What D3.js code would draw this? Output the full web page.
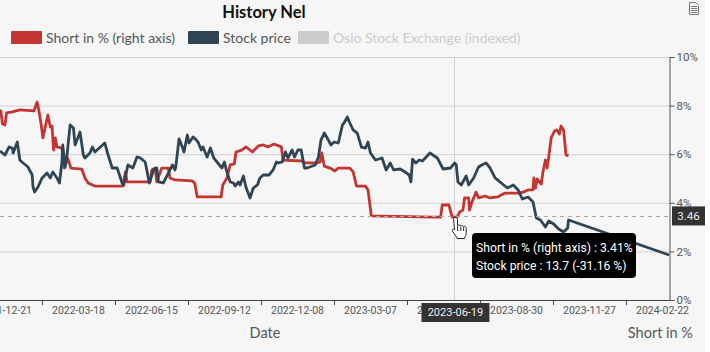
<!DOCTYPE html>
<html>
<head>
<meta charset="utf-8">
<script src="https://cdn.jsdelivr.net/npm/d3@7"></script>
<style>
  html, body { margin: 0; padding: 0; background: #fff; }
  svg { display: block; font-family: "Lato", sans-serif; }
</style>
</head>
<body>
<div id="container"></div>
<script>
var width = 710,
    height = 352,
    panelWidth = 705,
    plot = { left: 0, right: 670, top: 57, bottom: 300 };

// category labels under the axis, one per band
var tickLabels = ['2021-12-21', '2022-03-18', '2022-06-15', '2022-09-12', '2022-12-08',
    '2023-03-07', '2023-06-07', '2023-08-30', '2023-11-27', '2024-02-22'];
var percentTicks = [0, 2, 4, 6, 8, 10];

// days counted from firstDate
var firstDate = new Date(2021, 11, 14);
var lastDate = new Date(2024, 2, 5);

var shortDays = [0, 1, 3, 6, 8, 15, 24, 41, 45, 47, 50, 52, 58, 61, 63, 65, 67, 69, 75, 78, 82, 86, 99, 103, 107,
    115, 146, 149, 152, 154, 182, 184, 188, 190, 196, 204, 206, 212, 233, 236, 239, 268, 270, 275, 279, 284, 286,
    293, 298, 306, 313, 319, 325, 332, 341, 343, 366, 370, 384, 388, 390, 393, 400, 406, 410, 424, 428, 432, 443,
    446, 450, 525, 534, 536, 544, 548, 554, 557, 561, 563, 568, 569, 572, 577, 580, 588, 594, 603, 612, 628, 634,
    640, 646, 647, 649, 651, 656, 658, 661, 663, 665, 668, 672, 675, 678, 680, 683, 686, 689];
var shortValues = [7.82, 7.78, 7.24, 7.20, 7.70, 7.74, 7.82, 7.78, 8.15, 7.82, 7.20, 6.67, 7.61, 7.12, 7.16, 6.17,
    6.67, 6.30, 6.25, 5.43, 5.84, 5.43, 5.39, 5.02, 4.81,
    4.69, 4.69, 4.69, 5.27, 4.86, 4.86, 5.35, 5.43, 4.86, 5.43, 5.43, 5.02, 4.94, 4.90, 4.81, 4.24, 4.24, 4.73,
    5.02, 5.56, 5.60, 6.09,
    6.17, 6.30, 6.09, 6.34, 6.38, 6.30, 6.42, 6.30, 5.76, 5.72, 5.64, 5.64, 5.68, 6.05, 5.51, 5.43, 5.31, 5.43,
    5.43, 5.27, 4.69, 4.69,
    4.53, 3.46, 3.41, 3.41, 3.91, 3.91, 3.41, 3.41, 3.62, 3.70, 4.20, 4.20, 3.70, 4.03, 4.44, 4.20, 4.28, 4.20,
    4.24, 4.40, 4.40, 4.44,
    4.53, 4.53, 5.02, 4.61, 4.98, 4.77, 5.27, 5.76, 5.43, 5.88, 6.67, 6.95, 7.00, 6.83, 7.16, 7.00, 5.97, 5.93];

var priceDays = [0, 6, 11, 15, 16, 21, 24, 28, 34, 39, 40, 42, 46, 51, 57, 61, 64, 69, 72, 75, 76, 79, 81, 85, 89,
    91, 97, 101, 103, 109, 112, 115, 127, 131, 136, 142, 148, 150, 155, 161, 166, 170, 176, 181, 186, 190, 192,
    198, 204, 209, 212, 213, 217, 221, 223, 227, 229, 234, 238, 240, 244, 246, 251, 255, 259, 263, 269, 272, 275,
    279, 283, 285, 289, 291, 295, 298, 303, 307, 312, 315, 319, 326, 331, 335, 337, 342, 346, 349, 354, 357, 361,
    365, 369, 372, 382, 386, 389, 393, 398, 401, 405, 410, 415, 417, 421, 424, 428, 433, 438, 443, 446, 449, 455,
    463, 468, 473, 477, 485, 491, 496, 498, 500, 504, 508, 512, 521, 530, 537, 546, 551, 553, 555, 559, 565, 568,
    574, 580, 584, 589, 594, 600, 609, 615, 622, 628, 633, 640, 646, 650, 655, 661, 665, 671, 677, 683, 688, 689, 811];
var priceValues = [15.13, 14.72, 15.53, 15.43, 14.92, 16.04, 14.21, 13.91, 13.50, 12.69, 11.47, 10.96, 11.47, 12.39,
    12.89, 12.39, 12.99, 12.39, 11.88, 13.91, 15.74, 13.50, 14.52, 17.77, 17.46,
    15.74, 17.06, 14.72, 14.42, 14.92, 15.53, 15.03, 15.94, 14.72, 13.40, 13.40, 11.88, 11.68, 13.71, 13.40, 14.52,
    14.42, 14.01, 11.88, 13.20, 13.40, 11.98,
    11.88, 12.89, 13.71, 13.20, 13.50, 16.35, 15.53, 15.03, 16.75, 15.94, 16.55, 16.24, 16.04, 15.23, 15.53, 14.52,
    15.43, 14.42, 14.01, 13.40, 14.01, 12.99,
    11.98, 11.88, 11.57, 11.98, 11.68, 12.59, 11.47, 10.35, 11.37, 11.68, 12.39, 12.69, 12.69, 13.20, 14.01, 13.91,
    14.01, 15.03, 14.42, 15.23, 14.52, 15.23,
    15.23, 13.40, 13.40, 13.71, 14.52, 16.24, 16.95, 16.24, 15.74, 16.04, 15.94, 17.77, 17.97, 18.58, 17.97, 17.26,
    16.95, 15.53, 15.43, 16.04, 14.92, 14.21,
    14.42, 13.20, 13.91, 13.20, 13.30, 12.99, 12.69, 11.98, 14.31, 13.91, 14.21, 14.11, 14.92, 14.42, 13.30, 13.40,
    13.91, 13.71, 11.98, 11.68, 12.59, 11.68,
    12.39, 13.50, 13.71, 13.91, 13.40, 12.39, 11.78, 11.37, 11.68, 11.17, 10.25, 10.46, 9.95, 8.33, 8.12, 7.41, 8.02,
    7.72, 7.21, 6.90, 7.31, 8.12, 4.57];

var hoverDate = new Date(2023, 5, 19);
var hoverLabel = '2023-06-19';
var hoverPercent = 3.46;
var tooltipLines = ['Short in % (right axis) : 3.41%', 'Stock price : 13.7 (-31.16 %)'];
var legendItems = [
    { name: 'Short in % (right axis)', color: '#c23531', text: '#555', x: 11 },
    { name: 'Stock price', color: '#2f4554', text: '#555', x: 188 },
    { name: 'Oslo Stock Exchange (indexed)', color: '#ccc', text: '#ccc', x: 298 }
];

var svg = d3.select('#container')
    .append('svg')
    .attr('width', width)
    .attr('height', height);

svg.append('rect')
    .attr('width', panelWidth)
    .attr('height', height)
    .attr('fill', '#f6f6f6');

//scales
var x = d3.scaleTime()
    .domain([firstDate, lastDate])
    .range([plot.left, plot.right]);
var band = d3.scaleBand()
    .domain(tickLabels)
    .range([-31, 699]);
var yShort = d3.scaleLinear()
    .domain([0, 10])
    .range([plot.bottom, plot.top]);
// hidden axis, the price has no ticks of its own
var yPrice = d3.scaleLinear()
    .domain([0, 24.67])
    .range([plot.bottom, plot.top]);

function dayToDate(d) {
    return d3.timeDay.offset(firstDate, d);
}

//grid
svg.append('g')
    .selectAll('line')
    .data(percentTicks.slice(1))
    .join('line')
    .attr('x1', plot.left)
    .attr('x2', plot.right)
    .attr('y1', function(d) { return yShort(d) + 0.5; })
    .attr('y2', function(d) { return yShort(d) + 0.5; })
    .attr('stroke', '#d2d2d2');

svg.append('line')
    .attr('x1', Math.round(x(hoverDate)) - 0.5)
    .attr('x2', Math.round(x(hoverDate)) - 0.5)
    .attr('y1', plot.top)
    .attr('y2', plot.bottom)
    .attr('stroke', '#d2d2d2');

//lines
svg.append('clipPath').attr('id', 'plot-clip')
    .append('rect')
    .attr('x', plot.left)
    .attr('y', plot.top)
    .attr('width', plot.right - plot.left)
    .attr('height', plot.bottom - plot.top);

var lineShort = d3.line()
    .x(function(d) { return x(dayToDate(d)); })
    .y(function(d, i) { return yShort(shortValues[i]); });
var linePrice = d3.line()
    .x(function(d) { return x(dayToDate(d)); })
    .y(function(d, i) { return yPrice(priceValues[i]); });

svg.append('path')
    .attr('d', lineShort(shortDays))
    .attr('clip-path', 'url(#plot-clip)')
    .attr('fill', 'none')
    .attr('stroke', '#c23531')
    .attr('stroke-width', 2.8)
    .attr('stroke-linejoin', 'round');
svg.append('path')
    .attr('d', linePrice(priceDays))
    .attr('clip-path', 'url(#plot-clip)')
    .attr('fill', 'none')
    .attr('stroke', '#2f4554')
    .attr('stroke-width', 2.8)
    .attr('stroke-linejoin', 'round');

//dashed pointer at the hovered percent
svg.append('line')
    .attr('x1', plot.left)
    .attr('x2', plot.right)
    .attr('y1', Math.round(yShort(hoverPercent)) + 0.5)
    .attr('y2', Math.round(yShort(hoverPercent)) + 0.5)
    .attr('stroke', '#aaa')
    .attr('stroke-dasharray', '4,4');

//axes
var xAxis = d3.axisBottom(band).tickSize(0).tickPadding(7);
var gx = svg.append('g')
    .attr('transform', 'translate(0,' + plot.bottom + ')')
    .call(xAxis);
gx.select('.domain').remove();
gx.selectAll('text')
    .attr('font-size', 10.5)
    .attr('font-family', 'Roboto')
    .attr('fill', '#555');
// boundary marks sit between the labels
svg.append('g')
    .selectAll('line')
    .data(tickLabels.slice(1))
    .join('line')
    .attr('x1', function(d) { return Math.round(band(d)) + 0.5; })
    .attr('x2', function(d) { return Math.round(band(d)) + 0.5; })
    .attr('y1', plot.bottom)
    .attr('y2', plot.bottom + 5)
    .attr('stroke', '#444');
svg.append('line')
    .attr('x1', plot.left)
    .attr('x2', plot.right)
    .attr('y1', plot.bottom + 0.5)
    .attr('y2', plot.bottom + 0.5)
    .attr('stroke', '#444');

var yAxis = d3.axisRight(yShort)
    .tickValues(percentTicks)
    .tickSize(5)
    .tickPadding(2)
    .tickFormat(function(d) { return d + '%'; });
var gy = svg.append('g')
    .attr('transform', 'translate(' + (plot.right - 0.5) + ',0)')
    .call(yAxis);
gy.select('.domain').attr('stroke', '#555');
gy.selectAll('.tick line').attr('stroke', '#555');
gy.selectAll('text')
    .attr('font-size', 11.5)
    .attr('font-family', 'Roboto')
    .attr('fill', '#555');

//title, legend, axis names
svg.append('text')
    .attr('x', 264)
    .attr('y', 17.5)
    .attr('text-anchor', 'middle')
    .attr('font-size', 16.5)
    .attr('font-weight', 700)
    .attr('fill', '#111')
    .text('History Nel');

var legend = svg.append('g')
    .selectAll('g')
    .data(legendItems)
    .join('g')
    .attr('transform', function(d) { return 'translate(' + d.x + ',31)'; });
legend.append('rect')
    .attr('width', 31)
    .attr('height', 13)
    .attr('rx', 1)
    .attr('fill', function(d) { return d.color; });
legend.append('text')
    .attr('x', 35)
    .attr('y', 12)
    .attr('font-size', 14)
    .attr('fill', function(d) { return d.text; })
    .text(function(d) { return d.name; });

svg.append('text')
    .attr('x', 265)
    .attr('y', 338)
    .attr('text-anchor', 'middle')
    .attr('font-size', 14.5)
    .attr('fill', '#555')
    .text('Date');
svg.append('text')
    .attr('x', 693)
    .attr('y', 338)
    .attr('text-anchor', 'end')
    .attr('font-size', 14.5)
    .attr('fill', '#555')
    .text('Short in %');

//axis pointer labels
var hx = x(hoverDate);
svg.append('rect')
    .attr('x', hx - 34)
    .attr('y', plot.bottom + 3)
    .attr('width', 68)
    .attr('height', 19)
    .attr('fill', '#333');
svg.append('text')
    .attr('x', hx)
    .attr('y', plot.bottom + 16)
    .attr('text-anchor', 'middle')
    .attr('font-size', 11)
    .attr('font-family', 'Roboto')
    .attr('fill', '#eee')
    .text(hoverLabel);

svg.append('rect')
    .attr('x', plot.right + 2)
    .attr('y', yShort(hoverPercent) - 9.5)
    .attr('width', panelWidth - plot.right - 2)
    .attr('height', 19)
    .attr('fill', '#333');
svg.append('text')
    .attr('x', (plot.right + 2 + panelWidth) / 2)
    .attr('y', yShort(hoverPercent) + 4)
    .attr('text-anchor', 'middle')
    .attr('font-size', 11.5)
    .attr('font-family', 'Roboto')
    .attr('fill', '#eee')
    .text(hoverPercent.toFixed(2));

//tooltip
var tooltip = svg.append('g').attr('transform', 'translate(472,233)');
tooltip.append('rect')
    .attr('width', 164)
    .attr('height', 45)
    .attr('rx', 4)
    .attr('fill', '#000');
tooltip.selectAll('text')
    .data(tooltipLines)
    .join('text')
    .attr('x', 4)
    .attr('y', function(d, i) { return 18.5 + i * 18; })
    .attr('font-size', 12.2)
    .attr('font-family', 'Roboto')
    .attr('fill', '#fff')
    .text(function(d) { return d; });

//page icon, top right
svg.append('path')
    .attr('d', 'M689.5 2.5H695.5L698.5 5.5V14.5H689.5Z M691 6.5H697 M691 8.5H697 M691 10.5H697 M691 12.5H697')
    .attr('fill', 'none')
    .attr('stroke', '#777');

//mouse cursor from the screenshot
svg.append('path')
    .attr('d', 'M455.5 217.5c1.3 0 2 .8 2 2v6l.3 0c1-.8 2.3-.6 3 .4 1-.6 2.2-.4 2.8.6 1.2-.5 2.6.3 2.6 1.8v4.5c0 2-.7 3.4-1.7 4.7v1H457v-1c-1.2-1.6-2.6-3.6-4.6-6.4-.8-1.2 1-2.8 2.1-1.6l-.9-10.1c0-1.2.7-1.9 1.9-1.9Z M457.6 226v5 M460.8 226.5v4.5 M463.6 227.2v3.8')
    .attr('fill', '#fff')
    .attr('stroke', '#111')
    .attr('stroke-width', 0.9);
</script>
</body>
</html>
